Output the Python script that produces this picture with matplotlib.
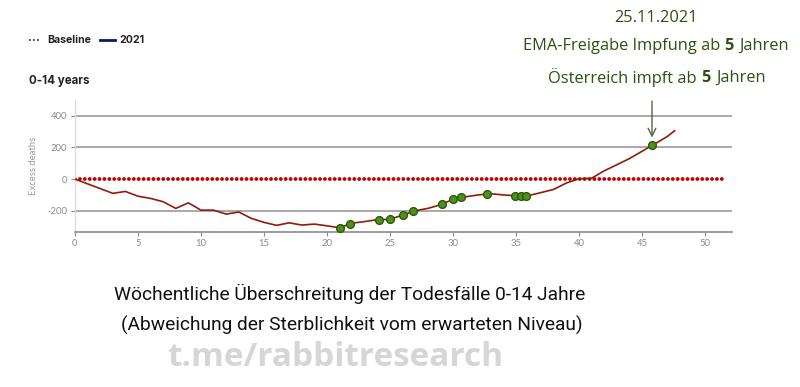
import matplotlib
matplotlib.use("Agg")
import matplotlib.pyplot as plt
from matplotlib.lines import Line2D
from matplotlib import font_manager

# ---------------- data ----------------
weeks = [0, 1, 2, 3, 4, 5, 6, 7, 8, 9, 10, 11, 12, 13, 14, 15, 16, 17, 18, 19,
         20, 21, 22, 23, 24, 25, 26, 27, 28, 29, 30, 31, 32, 33, 34, 35, 36, 37,
         38, 39, 40, 41, 42, 43, 44, 45, 46, 47, 47.6]
excess = [0, -30, -60, -90, -78, -108, -122, -143, -185, -150, -196, -196, -221,
          -208, -248, -273, -292, -276, -290, -284, -295, -307, -278, -268, -256,
          -254, -227, -200, -185, -163, -128, -112, -100, -92, -100, -105, -104,
          -85, -65, -25, 2, 5, 52, 90, 129, 175, 221, 268, 305]
marked_weeks = [21.0, 21.8, 24.1, 25.0, 26.0, 26.8, 29.1, 30.0, 30.6, 32.7,
                34.9, 35.4, 35.8, 45.8]
marked_excess = [-307, -283, -256, -254, -227, -202, -160, -128, -115, -93,
                 -105, -105, -105, 212]
baseline_x = [0, 51.7]
baseline_y = [0, 0]
x_ticks = [0, 5, 10, 15, 20, 25, 30, 35, 40, 45, 50]
y_ticks = [-200, 0, 200, 400]
grid_levels = [-200, 200, 400]

legend_labels = ["Baseline", "2021"]
panel_title = "0-14 years"
y_label = "Excess deaths"
note_lines = [
    [("25.11.2021", "normal")],
    [("EMA-Freigabe Impfung ab ", "normal"), ("5 ", "bold"), ("Jahren", "normal")],
    [("Österreich impft ab ", "normal"), ("5 ", "bold"), ("Jahren", "normal")],
]
title_lines = ["Wöchentliche Überschreitung der Todesfälle 0-14 Jahre",
               "(Abweichung der Sterblichkeit vom erwarteten Niveau)"]
watermark = "t.me/rabbitresearch"

# ---------------- fonts ----------------
avail = {f.name for f in font_manager.fontManager.ttflist}
def pick(*names):
    for n in names:
        if n in avail:
            return n
    return "DejaVu Sans"
body_font = pick("Open Sans", "Noto Sans")
title_font = pick("Roboto", "Open Sans")
ui_font = pick("Inter", "Roboto")
tick_font = pick("Lato", "Roboto")

W, H = 800, 387
fig = plt.figure(figsize=(W / 100, H / 100), dpi=100)
fig.patch.set_facecolor("white")

def fx(px):
    return px / W
def fy(py):
    return 1 - py / H

ax = fig.add_axes([fx(75), fy(231.7), (732 - 75) / W, (231.7 - 100) / H])
ax.set_xlim(0, 52.15)
ax.set_ylim(-332, 499)

for lv in grid_levels:
    ax.axhline(lv, color="#a3a3a3", lw=1.3, zorder=1)

ax.plot(baseline_x, baseline_y, color="#c40000", lw=2.8,
        linestyle=(0, (0.01, 1.25)), dash_capstyle="round", zorder=2)
ax.plot(weeks, excess, color="#8f1d08", lw=1.2, zorder=3)
ax.plot(marked_weeks, marked_excess, "o", ms=5.6, mfc="#4f8f1d",
        mec="#2c5a0c", mew=1.0, zorder=4, linestyle="none")

ax.annotate("", xy=(45.8, 262), xytext=(45.8, 492),
            arrowprops=dict(arrowstyle="->", color="#56614d", lw=1.0,
                            mutation_scale=14, shrinkA=0, shrinkB=0),
            annotation_clip=False, zorder=5)

for s in ["top", "right"]:
    ax.spines[s].set_visible(False)
ax.spines["left"].set_color("#dddddd")
ax.spines["left"].set_linewidth(1.0)
ax.spines["bottom"].set_color("#8a8a8a")
ax.spines["bottom"].set_linewidth(1.2)

ax.set_xticks(x_ticks)
ax.set_xticklabels([str(t) for t in x_ticks])
ax.set_yticks(y_ticks)
ax.set_yticklabels([str(t) for t in y_ticks])
ax.tick_params(axis="both", colors="#8a8a8a", labelsize=6.8, length=3,
               width=0.8, pad=2.5)
for lab in ax.get_xticklabels() + ax.get_yticklabels():
    lab.set_fontfamily(tick_font)
    lab.set_color("#8a8a8a")
ax.set_ylabel(y_label, fontsize=6.8, color="#9a9a9a", family=tick_font,
              labelpad=7)

# legend (figure coordinates)
fig.add_artist(Line2D([fx(29), fx(41)], [fy(40), fy(40)], color="#222222",
                      lw=1.2, linestyle=(0, (1, 1.4))))
fig.text(fx(47), fy(40), legend_labels[0], fontsize=7.6, fontweight="bold",
         family=ui_font, color="#222222", va="center", ha="left")
fig.add_artist(Line2D([fx(100), fx(115)], [fy(40), fy(40)], color="#0b1a5c",
                      lw=2.0))
fig.text(fx(119), fy(40), legend_labels[1], fontsize=7.6, fontweight="bold",
         family=ui_font, color="#222222", va="center", ha="left")
fig.text(fx(29), fy(81), panel_title, fontsize=8.3, fontweight="bold",
         family=ui_font, color="#222222", va="center", ha="left")

# annotation text with bold segments, centred
renderer = fig.canvas.get_renderer()
def seg_text(cx, cy, segs, size, color, family, gap=0.5):
    texts = []
    for s, w in segs:
        t = fig.text(0, fy(cy), s, fontsize=size, fontweight=w, family=family,
                     color=color, va="center", ha="left")
        texts.append(t)
    widths = [t.get_window_extent(renderer).width for t in texts]
    total = sum(widths) + gap * (len(texts) - 1)
    x = cx - total / 2
    for t, w in zip(texts, widths):
        t.set_x(fx(x))
        x += w + gap

note_color = "#2b5210"
seg_text(656, 18, note_lines[0], 11.8, note_color, body_font)
seg_text(656, 46, note_lines[1], 11.8, note_color, body_font)
seg_text(657, 78, note_lines[2], 11.8, note_color, body_font)

fig.text(fx(350), fy(294), title_lines[0], fontsize=13.8, family=title_font,
         color="#111111", ha="center", va="center")
fig.text(fx(352), fy(325), title_lines[1], fontsize=13.8, family=title_font,
         color="#111111", ha="center", va="center")
fig.text(fx(335), fy(357), watermark, fontsize=24, fontweight="bold",
         family=body_font, color="#d6d6d6", ha="center", va="center")

fig.savefig("out.png", dpi=100, facecolor="white")
